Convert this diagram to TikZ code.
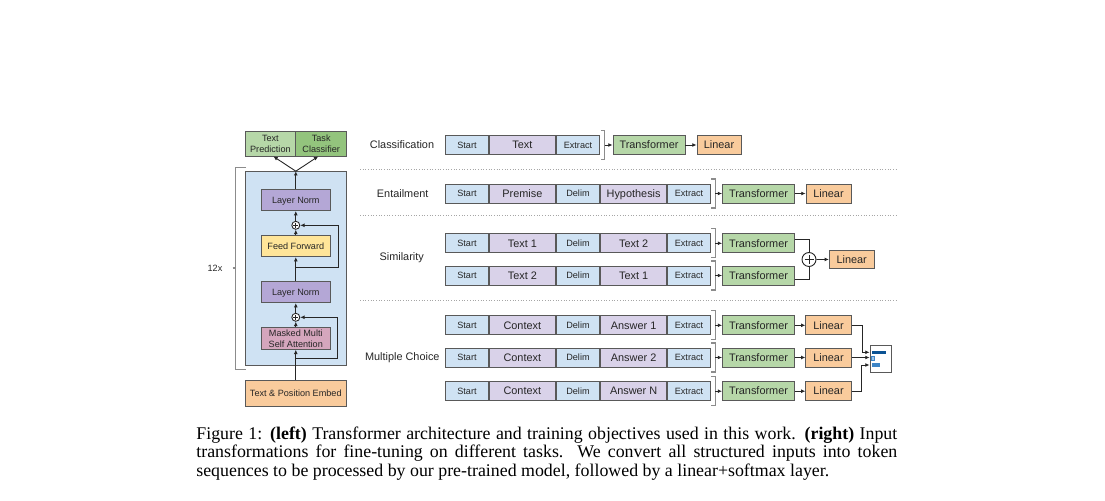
\documentclass[tikz,border=0pt]{standalone}
\usepackage{fontspec}
\setmainfont{Liberation Serif}
\newfontfamily\diagfont{Liberation Sans}
\usetikzlibrary{arrows.meta,positioning,calc}
\definecolor{tokblue}{HTML}{CFE2F3}
\definecolor{toklilac}{HTML}{D9D2E9}
\definecolor{trgreen}{HTML}{B6D7A8}
\definecolor{clsgreen}{HTML}{93C47D}
\definecolor{linorange}{HTML}{F9CB9C}
\definecolor{normpurple}{HTML}{B4A7D6}
\definecolor{ffyellow}{HTML}{FFE599}
\definecolor{attnpink}{HTML}{D5A6BD}
\definecolor{edge}{HTML}{595959}
\definecolor{bardark}{HTML}{0B5394}
\definecolor{barmid}{HTML}{3D85C6}
\definecolor{barlight}{HTML}{9FC5E8}
\newdimen\pxu \pxu=0.56pt

\begin{document}
\begin{tikzpicture}[x=0.56pt,y=-0.56pt,
    box/.style={draw=edge,line width=0.5pt,inner sep=0pt,text=black!85,font=\diagfont\fontsize{6.1}{7}\selectfont},
    small/.style={font=\diagfont\fontsize{5.1}{6.1}\selectfont},
    big/.style={text height=4.7pt,text depth=0.5pt},
    tiny/.style={small,text height=4pt,text depth=0.3pt},
    lbl/.style={text=black!85,font=\diagfont\fontsize{6.1}{7}\selectfont},
    conn/.style={draw=black!85,line width=0.5pt,-{Latex[length=2.4pt,width=2.2pt]}},
    wire/.style={draw=black!85,line width=0.5pt},
    brk/.style={draw=black!45,line width=0.7pt},
    sep/.style={draw=black!35,line width=0.5pt,dash pattern=on 0.5pt off 1pt},
    addop/.style={circle,draw=black!85,line width=0.5pt,inner sep=0pt,fill=white}]
  \useasboundingbox (0,0) rectangle (1105,501);

  % left: transformer block
  \node[box,fill=tokblue,minimum width={101.7*\pxu},minimum height={193.3*\pxu}] (blk) at (295.8,268.3) {};
  \node[box,small,fill=trgreen,minimum width={50.7*\pxu},minimum height={25*\pxu},align=center] (pred) at (270.4,143.5) {Text\\Prediction};
  \node[box,small,fill=clsgreen,minimum width={51*\pxu},minimum height={25*\pxu},align=center] (clf) at (321.2,143.5) {Task\\Classifier};
  \node[box,tiny,fill=normpurple,minimum width={69*\pxu},minimum height={21.5*\pxu}] (ln2) at (295.8,199.8) {Layer Norm};
  \node[addop,minimum size={8*\pxu}] (add2) at (295.8,225.3) {};
  \node[box,tiny,fill=ffyellow,minimum width={69*\pxu},minimum height={21*\pxu}] (ff) at (295.8,246.2) {Feed Forward};
  \node[box,tiny,fill=normpurple,minimum width={69*\pxu},minimum height={21*\pxu}] (ln1) at (295.8,292.2) {Layer Norm};
  \node[addop,minimum size={8*\pxu}] (add1) at (295.8,317.3) {};
  \node[box,small,fill=attnpink,minimum width={69*\pxu},minimum height={22*\pxu},align=center] (mha) at (295.8,338.3) {Masked Multi\\Self Attention};
  \node[box,tiny,fill=linorange,minimum width={101.7*\pxu},minimum height={25.3*\pxu}] (emb) at (295.8,393.3) {Text \& Position Embed};

  \draw[conn] (emb) -- (mha);
  \draw[conn] (mha) -- (add1);
  \draw[conn] (add1) -- (ln1);
  \draw[conn] (ln1) -- (ff);
  \draw[conn] (ff) -- (add2);
  \draw[conn] (add2) -- (ln2);
  \draw[conn] (ln2) -- (blk.north);
  \draw[conn] (blk.north) -- ([xshift={3*\pxu}]pred.south);
  \draw[conn] (blk.north) -- ([xshift={-3*\pxu}]clf.south);
  \draw[conn] ($(mha.south)+(0,9)$) -| ($(add1.east)+(37.5,0)$) -- (add1.east);
  \draw[conn] ($(ff.south)+(0,10)$) -| ($(add2.east)+(38.5,0)$) -- (add2.east);

  \draw[brk] (246,167.7) -| (235.7,268) coordinate (rep-k) |- (246,369.3);
  \node[lbl,small] (rep) at (215,268) {12x};
  \draw[brk] ([xshift={4*\pxu}]rep.east) -- (rep-k);

  % right: task inputs
  \foreach \y in {169,215.7,300}
    \draw[sep] (360,\y) -- (897,\y);

  \node[lbl] (cls) at (402,144.5) {Classification};
  \node[lbl] (ent) at (402.7,193.3) {Entailment};
  \node[lbl] (sim) at (401.7,258) {Similarity};
  \node[lbl] (mc) at (402.3,357.3) {Multiple Choice};

  \node[box,tiny,fill=tokblue,minimum width={43*\pxu},minimum height={19*\pxu},anchor=west] (cls-s) at (445,145) {Start};
  \node[box,big,fill=toklilac,minimum width={66*\pxu},minimum height={19*\pxu},anchor=west] (cls-a) at (cls-s.east) {Text};
  \node[box,tiny,fill=tokblue,minimum width={43.5*\pxu},minimum height={19*\pxu},anchor=west] (cls-e) at (cls-a.east) {Extract};
  \draw[brk] ($(cls-e.east)+(0.5,-14.5)$) -| ($(cls-e.east)+(4.5,0)$) coordinate (cls-k) |- ($(cls-e.east)+(0.5,14.5)$);
  \node[box,big,fill=trgreen,minimum width={72*\pxu},minimum height={19*\pxu}] (cls-t) at (649,145) {Transformer};
  \node[box,big,fill=linorange,minimum width={44*\pxu},minimum height={19*\pxu}] (cls-l) at (719,145) {Linear};
  \draw[conn] (cls-k) -- (cls-t);
  \draw[conn] (cls-t) -- (cls-l);

  \foreach \rw/\y/\ta/\tb in {ent/193.5/Premise/Hypothesis,sia/243.3/Text 1/Text 2,sib/275.5/Text 2/Text 1,
      mca/325.3/Context/Answer 1,mcb/357.5/Context/Answer 2,mcc/391.2/Context/Answer N}{
    \node[box,tiny,fill=tokblue,minimum width={43*\pxu},minimum height={19*\pxu},anchor=west] (\rw-s) at (445,\y) {Start};
    \node[box,big,fill=toklilac,minimum width={66*\pxu},minimum height={19*\pxu},anchor=west] (\rw-a) at (\rw-s.east) {\ta};
    \node[box,tiny,fill=tokblue,minimum width={43.5*\pxu},minimum height={19*\pxu},anchor=west] (\rw-d) at (\rw-a.east) {Delim};
    \node[box,big,fill=toklilac,minimum width={66*\pxu},minimum height={19*\pxu},anchor=west] (\rw-b) at (\rw-d.east) {\tb};
    \node[box,tiny,fill=tokblue,minimum width={43*\pxu},minimum height={19*\pxu},anchor=west] (\rw-e) at (\rw-b.east) {Extract};
    \draw[brk] ($(\rw-e.east)+(0.5,-14.5)$) -| ($(\rw-e.east)+(4.5,0)$) coordinate (\rw-k) |- ($(\rw-e.east)+(0.5,14.5)$);
    \node[box,big,fill=trgreen,minimum width={72*\pxu},minimum height={19*\pxu}] (\rw-t) at (758.5,\y) {Transformer};
    \draw[conn] (\rw-k) -- (\rw-t);
  }

  \node[box,big,fill=linorange,minimum width={45*\pxu},minimum height={19*\pxu}] (ent-l) at (828.5,193.5) {Linear};
  \draw[conn] (ent-t) -- (ent-l);

  \node[addop,minimum size={14*\pxu}] (sadd) at (809,259.5) {};
  \node[box,big,fill=linorange,minimum width={44.7*\pxu},minimum height={18*\pxu}] (sim-l) at (851.7,259.4) {Linear};
  \draw[wire] ([yshift={3.7*\pxu}]sia-t.east) -| (sadd.north);
  \draw[wire] ([yshift={-3.7*\pxu}]sib-t.east) -| (sadd.south);
  \draw[conn] (sadd) -- (sim-l);

  \foreach \rw in {mca,mcb,mcc}{
    \node[box,big,fill=linorange,minimum width={45.3*\pxu},minimum height={19*\pxu}] (\rw-l) at (\rw-t -| ent-l) {Linear};
    \draw[conn] (\rw-t) -- (\rw-l);
  }

  \foreach \p/\s in {add1/2.6,add2/2.6,sadd/4.5}
    \draw[wire] ($(\p)+(-\s,0)$) -- ($(\p)+(\s,0)$) ($(\p)+(0,-\s)$) -- ($(\p)+(0,\s)$);

  % softmax output
  \node[draw=edge,line width=0.5pt,fill=white,minimum width={21*\pxu},minimum height={27.7*\pxu},inner sep=0pt] (out) at (880.5,358.9) {};
  \fill[bardark] (871.7,350.7) rectangle (886,354);
  \filldraw[fill=barlight,draw=barmid,line width=0.4pt] (871.7,356.7) rectangle (874.3,360);
  \fill[barmid] (871.7,362.7) rectangle (880,366.7);
  \draw[conn] (mca-l.east) -- ++(10.7,0) |- ($(out.west)+(0,-6.6)$);
  \draw[conn] (mcb-l.east) -- (mcb-l.east -| out.west);
  \draw[conn] (mcc-l.east) -- ++(10,0) |- ($(out.west)+(0,6.1)$);

  % caption
  \node[anchor=north west,text width={701*\pxu},align=justify,inner sep=0pt,font=\fontsize{10}{10.1}\selectfont] (cap) at (196,427)
    {Figure 1: \textbf{(left)} Transformer architecture and training objectives used in this work. \textbf{(right)} Input\linebreak
     transformations for fine-tuning on different tasks.  We convert all structured inputs into token\linebreak
     sequences to be processed by our pre-trained model, followed by a linear+softmax layer.};
\end{tikzpicture}
\end{document}
